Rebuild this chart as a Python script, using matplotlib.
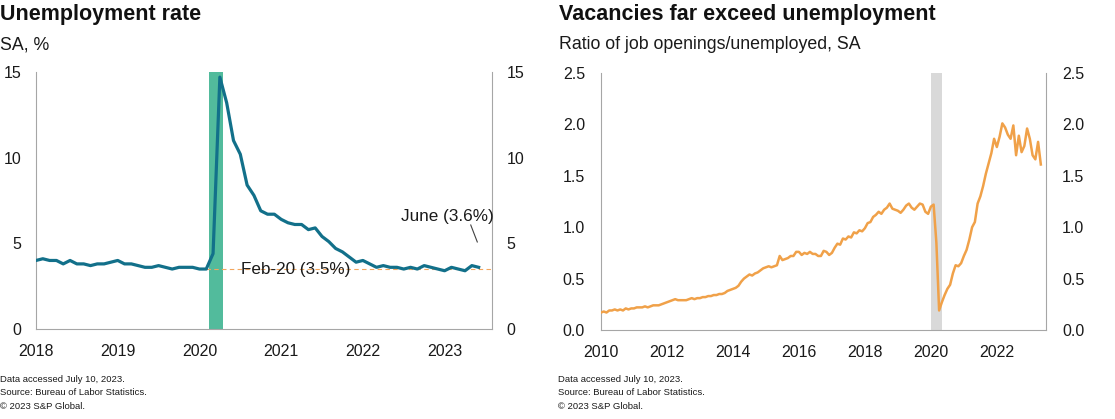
import numpy as np
import matplotlib
matplotlib.use('Agg')
import matplotlib.pyplot as plt
from matplotlib.ticker import FormatStrFormatter

plt.rcParams['font.family'] = ['Liberation Sans', 'DejaVu Sans']

# Unemployment rate, SA, %, monthly Jan 2018 - Jun 2023
unemp_start = 2018
unemp_rate = [
    4.0, 4.1, 4.0, 4.0, 3.8, 4.0, 3.8, 3.8, 3.7, 3.8, 3.8, 3.9,   # 2018
    4.0, 3.8, 3.8, 3.7, 3.6, 3.6, 3.7, 3.6, 3.5, 3.6, 3.6, 3.6,   # 2019
    3.5, 3.5, 4.4, 14.7, 13.2, 11.0, 10.2, 8.4, 7.8, 6.9, 6.7, 6.7,  # 2020
    6.4, 6.2, 6.1, 6.1, 5.8, 5.9, 5.4, 5.1, 4.7, 4.5, 4.2, 3.9,   # 2021
    4.0, 3.8, 3.6, 3.7, 3.6, 3.6, 3.5, 3.6, 3.5, 3.7, 3.6, 3.5,   # 2022
    3.4, 3.6, 3.5, 3.4, 3.7, 3.6,                                 # 2023
]
feb20_level = 3.5
feb20_label = 'Feb-20 (3.5%)'
june_label = 'June (3.6%)'
unemp_recession = (2020.12, 2020.29)
unemp_years = [2018, 2019, 2020, 2021, 2022, 2023]
unemp_yticks = [0, 5, 10, 15]

# Job openings / unemployed ratio, monthly Jan 2010 - May 2023
ratio_start = 2010
ratio = [
    0.17, 0.18, 0.17, 0.19, 0.19, 0.20, 0.19, 0.20, 0.19, 0.21, 0.20, 0.21,  # 2010
    0.21, 0.22, 0.22, 0.22, 0.23, 0.22, 0.23, 0.24, 0.24, 0.24, 0.25, 0.26,  # 2011
    0.27, 0.28, 0.29, 0.30, 0.29, 0.29, 0.29, 0.29, 0.30, 0.31, 0.30, 0.31,  # 2012
    0.31, 0.32, 0.32, 0.33, 0.33, 0.34, 0.34, 0.35, 0.35, 0.36, 0.38, 0.39,  # 2013
    0.40, 0.41, 0.43, 0.47, 0.50, 0.52, 0.54, 0.53, 0.55, 0.56, 0.58, 0.60,  # 2014
    0.61, 0.62, 0.61, 0.62, 0.63, 0.72, 0.68, 0.69, 0.70, 0.72, 0.72, 0.76,  # 2015
    0.76, 0.73, 0.75, 0.74, 0.76, 0.74, 0.74, 0.72, 0.72, 0.77, 0.76, 0.73,  # 2016
    0.75, 0.80, 0.84, 0.83, 0.89, 0.88, 0.91, 0.90, 0.95, 0.94, 0.97, 0.96,  # 2017
    0.99, 1.04, 1.05, 1.10, 1.12, 1.15, 1.13, 1.17, 1.19, 1.23, 1.18, 1.17,  # 2018
    1.16, 1.14, 1.17, 1.21, 1.23, 1.19, 1.17, 1.20, 1.23, 1.22, 1.15, 1.13,  # 2019
    1.20, 1.22, 0.85, 0.19, 0.27, 0.34, 0.40, 0.44, 0.55, 0.63, 0.62, 0.65,  # 2020
    0.72, 0.78, 0.88, 1.00, 1.05, 1.23, 1.30, 1.40, 1.52, 1.62, 1.72, 1.86,  # 2021
    1.78, 1.88, 2.01, 1.97, 1.90, 1.86, 1.99, 1.70, 1.89, 1.73, 1.79, 1.96,  # 2022
    1.86, 1.70, 1.66, 1.83, 1.61,                                            # 2023
]
ratio_recession = (2020.0, 2020.34)
ratio_years = [2010, 2012, 2014, 2016, 2018, 2020, 2022]
ratio_yticks = [0.0, 0.5, 1.0, 1.5, 2.0, 2.5]

TEAL = '#12708a'
GREEN_BAND = '#52bb9c'
ORANGE = '#f0a149'
GREY_BAND = '#d9d9d9'
SPINE = '#a6a6a6'
TEXT = '#1a1a1a'

W, H = 1115, 419
fig = plt.figure(figsize=(W / 100, H / 100), dpi=100)


def style_axes(ax, pad):
    ax.spines['top'].set_visible(False)
    for side in ('left', 'right', 'bottom'):
        ax.spines[side].set_color(SPINE)
        ax.spines[side].set_linewidth(0.8)
    ax.tick_params(axis='y', length=0, pad=pad, labelleft=True, labelright=True,
                   labelsize=11.5, labelcolor=TEXT)
    ax.tick_params(axis='x', length=0, pad=11, labelsize=11.5, labelcolor=TEXT)


# ---- left panel: unemployment rate ----
ax1 = fig.add_axes([36 / W, 1 - 329 / H, (492 - 36) / W, (329 - 72) / H])
x1 = unemp_start + np.arange(len(unemp_rate)) / 12
ax1.axvspan(*unemp_recession, color=GREEN_BAND, lw=0, zorder=1)
ax1.plot([2020 + 1 / 12, 2023.58], [feb20_level, feb20_level], color='#f2a65e',
         lw=0.8, ls=(0, (4, 3)), zorder=2)
ax1.plot(x1, unemp_rate, color=TEAL, lw=2.3, zorder=3, solid_joinstyle='round')
ax1.text(2020.51, feb20_level, feb20_label, ha='left', va='center',
         fontsize=12.3, color=TEXT, zorder=4)
ax1.text(2022.47, 6.54, june_label, ha='left', va='center', fontsize=12.3, color=TEXT)
ax1.plot([2023.32, 2023.40], [6.07, 5.08], color='#404040', lw=0.8)
ax1.set_xlim(2018, 2023.58)
ax1.set_ylim(0, 15)
ax1.set_xticks(unemp_years)
ax1.set_xticklabels([str(y) for y in unemp_years])
ax1.set_yticks(unemp_yticks)
style_axes(ax1, 10.5)

fig.text(0 / W, 1 - 20 / H, 'Unemployment rate', fontsize=15.5, fontweight='bold',
         ha='left', va='baseline', color='#111111')
fig.text(0 / W, 1 - 49 / H, 'SA, %', fontsize=12.8, ha='left', va='baseline', color=TEXT)

# ---- right panel: vacancies / unemployed ----
ax2 = fig.add_axes([601 / W, 1 - 330 / H, (1046 - 601) / W, (330 - 73) / H])
x2 = ratio_start + np.arange(len(ratio)) / 12
ax2.axvspan(*ratio_recession, color=GREY_BAND, lw=0, zorder=1)
ax2.plot(x2, ratio, color=ORANGE, lw=1.8, zorder=3, solid_joinstyle='round')
ax2.set_xlim(2010, 2023.49)
ax2.set_ylim(0, 2.5)
ax2.set_xticks(ratio_years)
ax2.set_xticklabels([str(y) for y in ratio_years])
ax2.set_yticks(ratio_yticks)
ax2.yaxis.set_major_formatter(FormatStrFormatter('%.1f'))
style_axes(ax2, 11.5)

fig.text(559 / W, 1 - 20 / H, 'Vacancies far exceed unemployment', fontsize=15.5,
         fontweight='bold', ha='left', va='baseline', color='#111111')
fig.text(559 / W, 1 - 49 / H, 'Ratio of job openings/unemployed, SA', fontsize=12.8,
         ha='left', va='baseline', color=TEXT)

# ---- footnotes ----
notes = ['Data accessed July 10, 2023.', 'Source: Bureau of Labor Statistics.',
         '\u00a9 2023 S&P Global.']
for x0 in (0, 558):
    for i, line in enumerate(notes):
        fig.text(x0 / W, 1 - (379 + 13.5 * i) / H, line, fontsize=6.8,
                 ha='left', va='center', color=TEXT)

fig.savefig('out.png', dpi=100)
